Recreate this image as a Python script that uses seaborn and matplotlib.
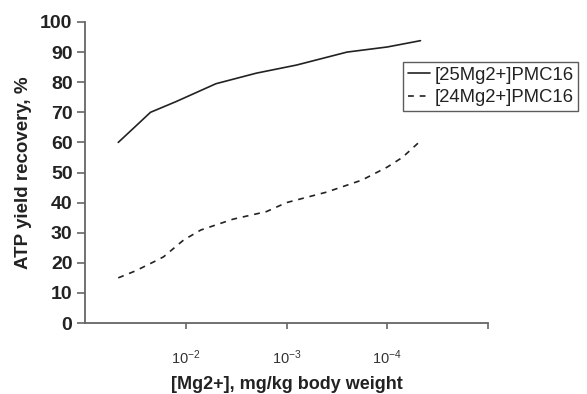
import matplotlib
matplotlib.use("Agg")
import matplotlib.pyplot as plt
import seaborn as sns
import pandas as pd

# Data (x in axis position units: 1 -> 10^-2, 2 -> 10^-3, 3 -> 10^-4)
x_25 = [0.33, 0.5, 0.65, 0.9, 1.3, 1.7, 2.1, 2.6, 3.0, 3.33]
y_25 = [60, 65.3, 70, 73.5, 79.5, 83, 85.7, 90, 91.7, 93.8]
x_24 = [0.33, 0.5, 0.7, 0.78, 0.98, 1.15, 1.47, 1.8, 2.0, 2.4, 2.75, 3.0, 3.15, 3.33]
y_24 = [15, 17.3, 20.6, 22, 27.6, 30.9, 34.5, 37, 40, 43.5, 47.5, 51.8, 55, 60.5]
series_names = ["[25Mg2+]PMC16", "[24Mg2+]PMC16"]
xtick_pos = [1, 2, 3, 4]
xtick_labels = [r"$10^{-2}$", r"$10^{-3}$", r"$10^{-4}$", ""]
ytick_vals = [0, 10, 20, 30, 40, 50, 60, 70, 80, 90, 100]

sns.set_style("white")
plt.rcParams["font.family"] = ["Liberation Sans", "DejaVu Sans"]
plt.rcParams["mathtext.fontset"] = "custom"
plt.rcParams["mathtext.rm"] = "Liberation Sans"
plt.rcParams["mathtext.it"] = "Liberation Sans"
plt.rcParams["mathtext.bf"] = "Liberation Sans:bold"

fig = plt.figure(figsize=(5.87, 3.94), dpi=100)
ax = fig.add_axes([85/587, 1 - 323/394, (488 - 85)/587, (323 - 22)/394])

df25 = pd.DataFrame({"x": x_25, "y": y_25})
df24 = pd.DataFrame({"x": x_24, "y": y_24})
sns.lineplot(data=df25, x="x", y="y", ax=ax, color="#222222", linewidth=1.2,
             label=series_names[0])
sns.lineplot(data=df24, x="x", y="y", ax=ax, color="#222222", linewidth=1.2,
             linestyle=(0, (3.5, 3.5)), label=series_names[1])

ax.set_xlim(0, 4)
ax.set_ylim(0, 100)
ax.set_yticks(ytick_vals)
ax.set_yticklabels([str(v) for v in ytick_vals], fontsize=14, fontweight="bold",
                   color="#222222")
ax.set_xticks(xtick_pos)
ax.set_xticklabels(xtick_labels, fontsize=10.5, color="#333333")

for s in ["top", "right"]:
    ax.spines[s].set_visible(False)
for s in ["left", "bottom"]:
    ax.spines[s].set_color("#666666")
    ax.spines[s].set_linewidth(1.3)
ax.tick_params(axis="y", direction="out", length=6, width=1.2, color="#666666",
               pad=3, left=True)
ax.tick_params(axis="x", direction="out", length=4, width=1.2, color="#666666",
               pad=14, bottom=True)

ax.set_xlabel("[Mg2+], mg/kg body weight", fontsize=13, fontweight="bold",
              color="#222222", labelpad=7)
ax.set_ylabel("ATP yield recovery, %", fontsize=13.5, fontweight="bold",
              color="#222222", labelpad=6)

leg = ax.legend(loc="upper left", bbox_to_anchor=(403/587, 1 - 62/394),
                bbox_transform=fig.transFigure, fontsize=13.3, frameon=True,
                fancybox=False, edgecolor="#333333", handlelength=1.2,
                handletextpad=0.25, borderpad=0.25, labelspacing=0.3,
                borderaxespad=0)
leg.get_frame().set_linewidth(1.0)
for t in leg.get_texts():
    t.set_color("#222222")

fig.savefig("out.png", dpi=100)
